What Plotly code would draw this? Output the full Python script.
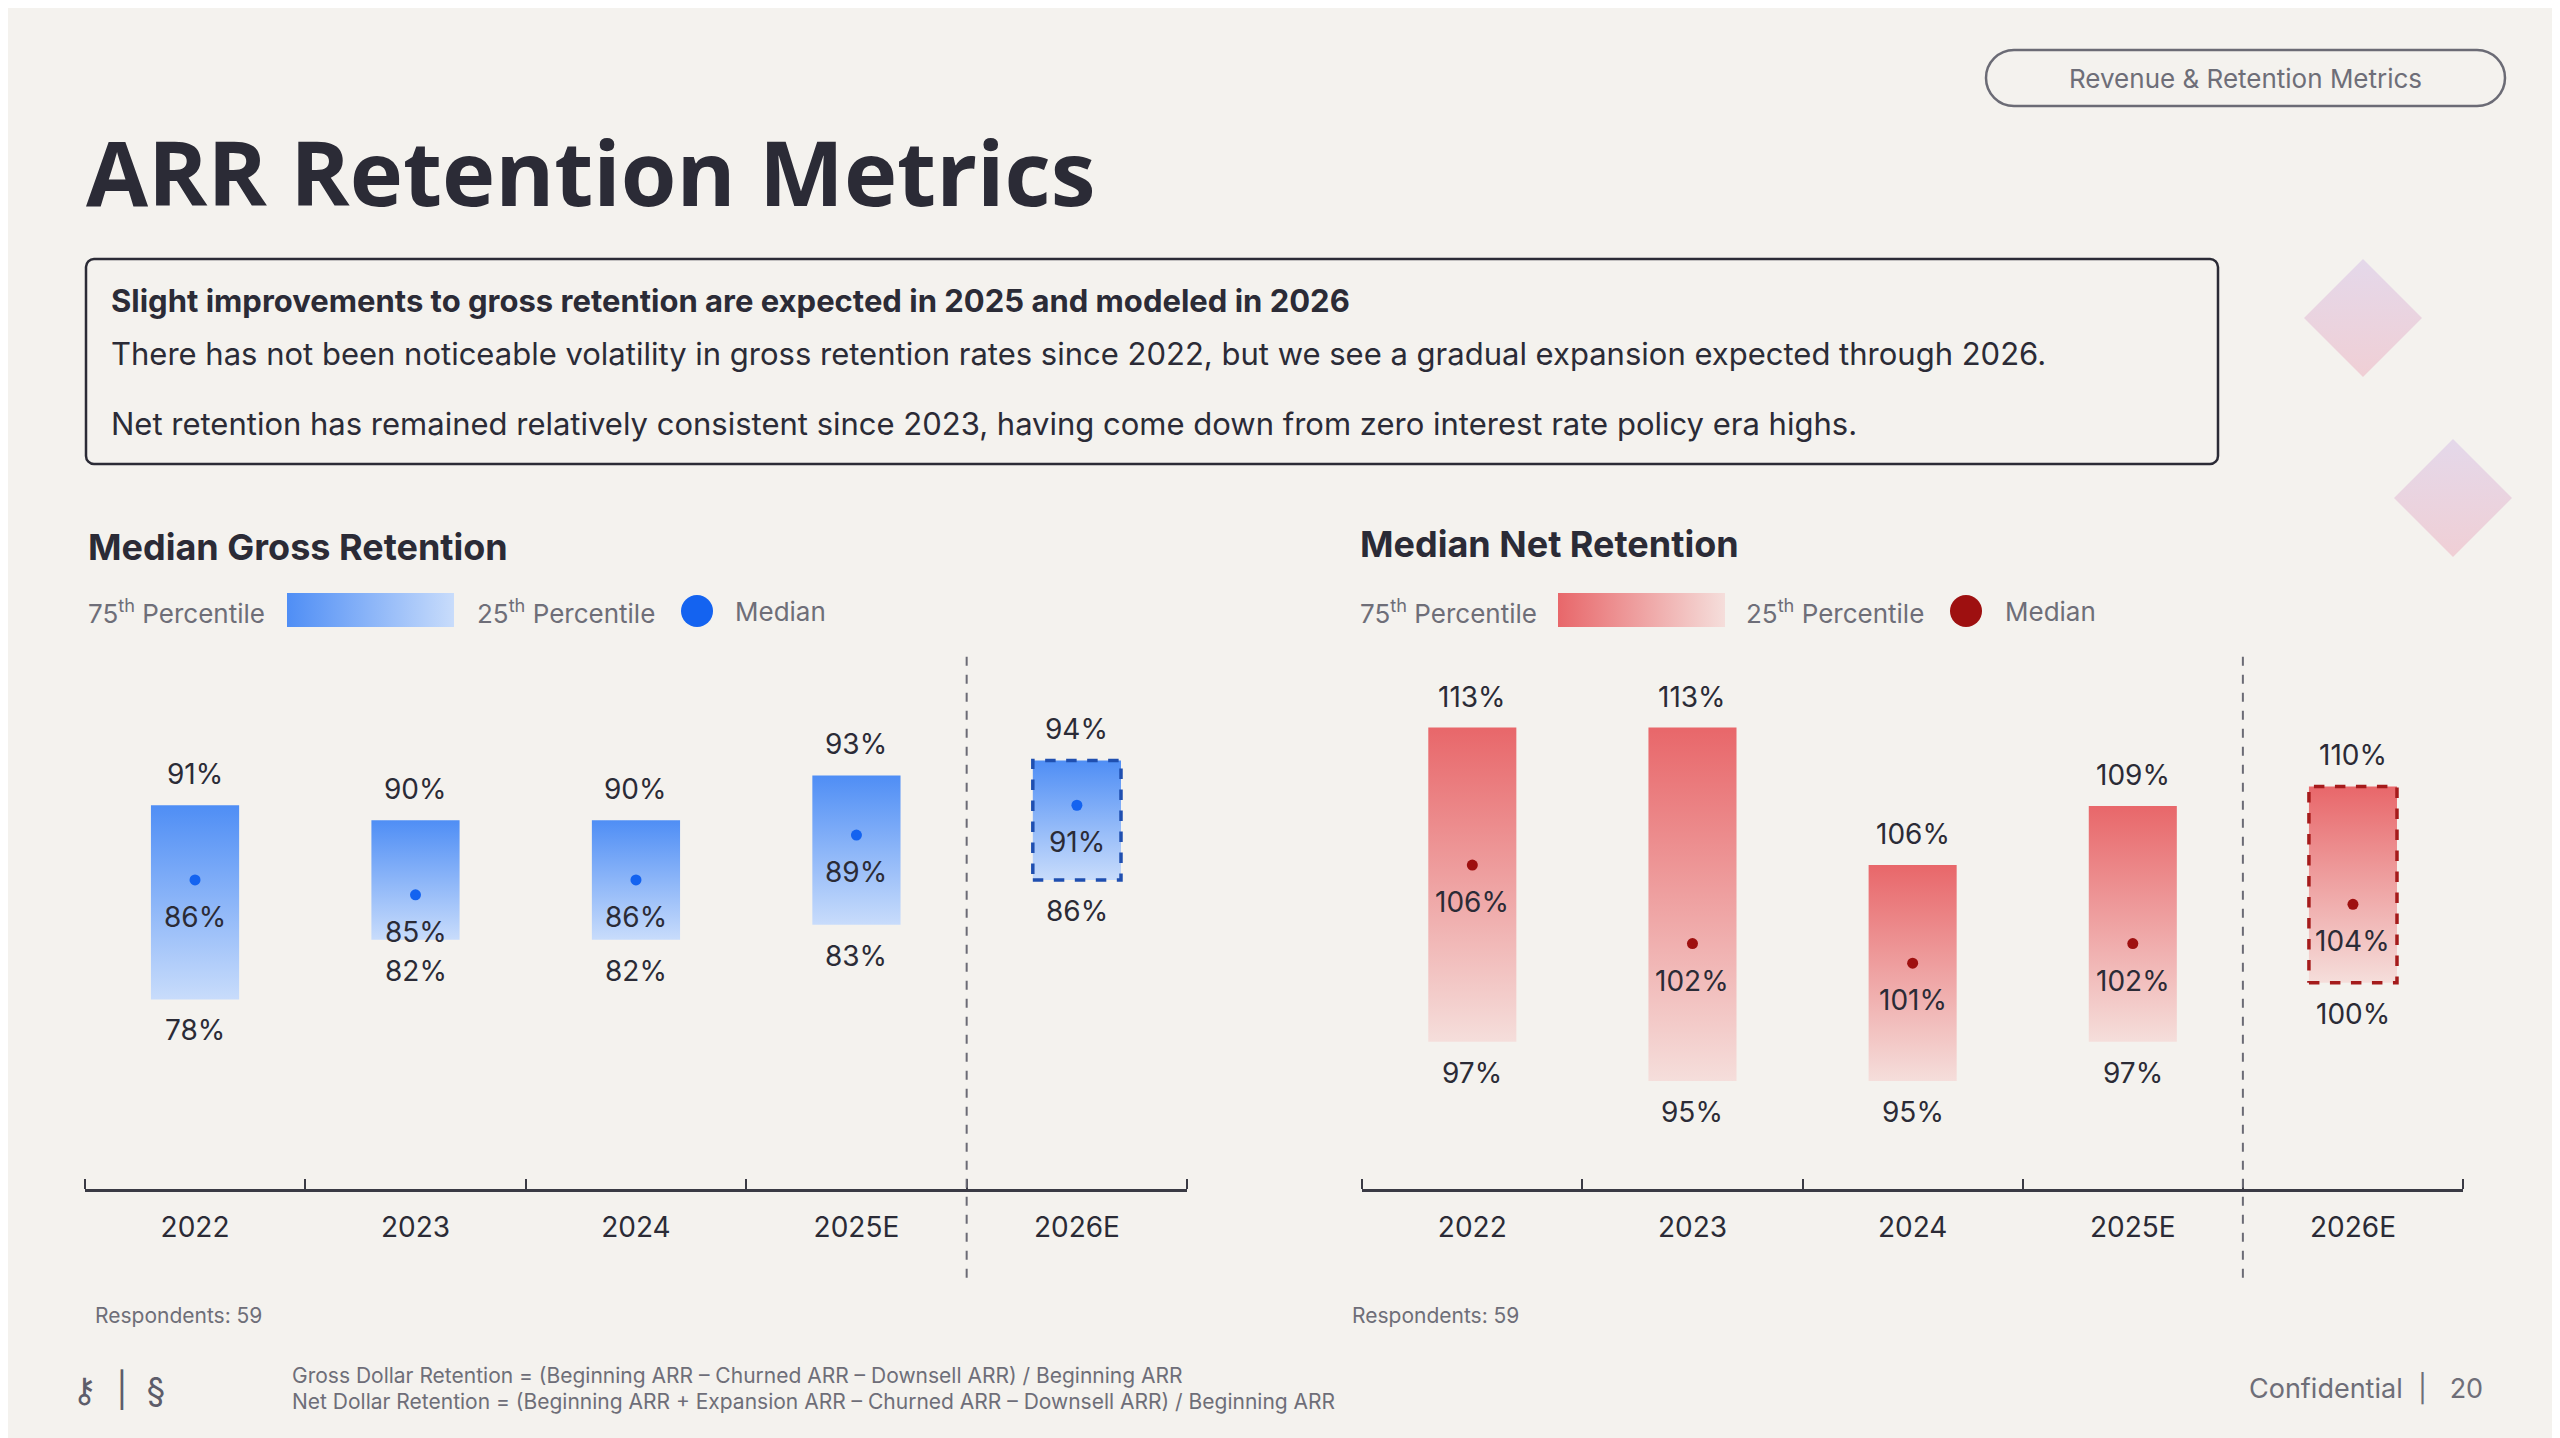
import plotly.graph_objects as go

YEARS = ["2022", "2023", "2024", "2025E", "2026E"]
GROSS_P75 = [91, 90, 90, 93, 94]
GROSS_MED = [86, 85, 86, 89, 91]
GROSS_P25 = [78, 82, 82, 83, 86]
NET_P75 = [113, 113, 106, 109, 110]
NET_MED = [106, 102, 101, 102, 104]
NET_P25 = [97, 95, 95, 97, 100]
RESPONDENTS = 59

BG = "#f4f2ee"
INK = "#2b2b36"
GRAY = "#6e6e78"
FONT = "Inter"
BLUE = ("#c8dcfb", "#4f8ef5", "#1463f0", "#1f4fb0")
RED = ("#f5dedb", "#e8676a", "#9e1010", "#a51b1b")

fig = go.Figure()


def panel(p75, med, p25, colors, xa, ya):
    light, dark, dot, edge = colors
    for i, (hi, m, lo) in enumerate(zip(p75, med, p25)):
        x0, x1 = i - 0.2, i + 0.2
        last = i == len(p75) - 1
        fig.add_trace(go.Scatter(
            x=[x0, x1, x1, x0, x0], y=[lo, lo, hi, hi, lo], xaxis=xa, yaxis=ya,
            mode="lines" if last else "none", fill="toself",
            fillgradient=dict(type="vertical", colorscale=[[0, light], [1, dark]]),
            line=dict(color=edge, width=3.5, dash="dash"), hoverinfo="skip"))
    idx = list(range(len(p75)))
    fig.add_trace(go.Scatter(x=idx, y=med, xaxis=xa, yaxis=ya, mode="markers",
                             marker=dict(color=dot, size=11), hoverinfo="skip"))
    for i in idx:
        for v, shift in ((p75[i], 31), (med[i], -37), (p25[i], -31)):
            fig.add_annotation(x=i, y=v, xref=xa, yref=ya, text=f"{v}%", showarrow=False,
                               yshift=shift, font=dict(size=28, color=INK))
    fig.add_shape(type="line", xref=xa, yref="paper", x0=3.5, x1=3.5, y0=0.117, y1=0.552,
                  line=dict(color="#6b6b75", width=2, dash="dash"))


panel(GROSS_P75, GROSS_MED, GROSS_P25, BLUE, "x", "y")
panel(NET_P75, NET_MED, NET_P25, RED, "x2", "y2")

xcommon = dict(range=[-0.5, 4.5], tickvals=list(range(5)), ticktext=YEARS, showline=True,
               linecolor="#3a3a44", linewidth=2.5, showgrid=False, zeroline=False, ticks="",
               tickfont=dict(size=28, color=INK), ticklabelstandoff=12,
               minor=dict(tickmode="linear", tick0=-0.5, dtick=1, ticks="inside",
                          ticklen=10, tickwidth=2, tickcolor="#3a3a44", showgrid=False),
               fixedrange=True)
fig.update_layout(
    xaxis=dict(domain=[0.030, 0.4606], anchor="y", **xcommon),
    xaxis2=dict(domain=[0.529, 0.959], anchor="y2", **xcommon),
    yaxis=dict(domain=[0.1787, 0.5515], range=[65.3, 101.2], visible=False),
    yaxis2=dict(domain=[0.1787, 0.5515], range=[89.5, 116.8], visible=False),
    xaxis3=dict(domain=[0, 1], range=[0, 2560], visible=False, anchor="y3"),
    yaxis3=dict(domain=[0, 1], range=[1438, 0], visible=False, anchor="x3"),
)


# decoration layer in pixel coordinates
def txt(x, y, s, size, color=INK, anchor="left", bold=False, family=FONT):
    if bold:
        s = f"<b>{s}</b>"
    fig.add_annotation(x=x, y=y, xref="x3", yref="y3", text=s, showarrow=False,
                       xanchor=anchor, yanchor="middle", font=dict(size=size, color=color, family=family))


def grad_rect(x0, x1, y0, y1, c_left, c_right):
    fig.add_trace(go.Scatter(x=[x0, x1, x1, x0, x0], y=[y0, y0, y1, y1, y0], xaxis="x3", yaxis="y3",
                             mode="none", fill="toself", hoverinfo="skip",
                             fillgradient=dict(type="horizontal", colorscale=[[0, c_left], [1, c_right]])))


def diamond(cx, cy, r):
    fig.add_trace(go.Scatter(x=[cx, cx + r, cx, cx - r, cx], y=[cy - r, cy, cy + r, cy, cy - r],
                             xaxis="x3", yaxis="y3", mode="none", fill="toself", hoverinfo="skip",
                             fillgradient=dict(type="vertical",
                                               colorscale=[[0, "#f0cfd5"], [1, "#e4d8ea"]])))


def rounded(x0, y0, x1, y1, r):
    k = r * 0.45
    return (f"M{x0+r},{y0} L{x1-r},{y0} C{x1-k},{y0} {x1},{y0+k} {x1},{y0+r} "
            f"L{x1},{y1-r} C{x1},{y1-k} {x1-k},{y1} {x1-r},{y1} L{x0+r},{y1} "
            f"C{x0+k},{y1} {x0},{y1-k} {x0},{y1-r} L{x0},{y0+r} C{x0},{y0+k} {x0+k},{y0} {x0+r},{y0} Z")


diamond(2355, 310, 59)
diamond(2445, 490, 59)

fig.add_shape(type="path", xref="x3", yref="y3", path=rounded(1978, 42, 2497, 98, 28),
              line=dict(color="#6b6b75", width=2.5))
txt(2237, 70, "Revenue &amp; Retention Metrics", 26, GRAY, "center")

txt(76, 163, "ARR Retention Metrics", 90, INK, bold=True, family="Open Sans")

fig.add_shape(type="path", xref="x3", yref="y3", path=rounded(78, 251, 2210, 456, 8),
              line=dict(color=INK, width=2.5))
txt(101, 292, "Slight improvements to gross retention are expected in 2025 and modeled in 2026", 31, INK, bold=True)
txt(101, 345, "There has not been noticeable volatility in gross retention rates since 2022, "
              "but we see a gradual expansion expected through 2026.", 31)
txt(101, 415, "Net retention has remained relatively consistent since 2023, "
              "having come down from zero interest rate policy era highs.", 31)

for x0, title, sw, dot, x25, xdot, xmed, cols in (
        (78, "Median Gross Retention", 279, BLUE[2], 467, 689, 725, BLUE),
        (1350, "Median Net Retention", 1550, RED[2], 1736, 1958, 1995, RED)):
    txt(x0, 539 if x0 < 1000 else 536, title, 36, INK, bold=True)
    txt(x0, 603, "75<sup>th</sup> Percentile", 26, GRAY)
    grad_rect(sw, sw + 167, 585, 619, cols[1], cols[0])
    txt(x25, 603, "25<sup>th</sup> Percentile", 26, GRAY)
    fig.add_trace(go.Scatter(x=[xdot], y=[603], xaxis="x3", yaxis="y3", mode="markers",
                             marker=dict(color=dot, size=32), hoverinfo="skip"))
    txt(xmed, 603, "Median", 26, GRAY)

txt(85, 1307, f"Respondents: {RESPONDENTS}", 21, GRAY)
txt(1342, 1307, f"Respondents: {RESPONDENTS}", 21, GRAY)
txt(282, 1367, "Gross Dollar Retention = (Beginning ARR – Churned ARR – Downsell ARR) / Beginning ARR", 21, GRAY)
txt(282, 1393, "Net Dollar Retention = (Beginning ARR + Expansion ARR – Churned ARR – Downsell ARR) / Beginning ARR", 21, GRAY)
txt(110, 1381, "⚷  |  §", 34, "#5d5d6a", "center")
txt(2477, 1380, "Confidential  |   20", 27, GRAY, "right")

fig.update_layout(width=2560, height=1438, paper_bgcolor=BG, plot_bgcolor="rgba(0,0,0,0)",
                  margin=dict(l=0, r=0, t=0, b=0), showlegend=False, font=dict(family=FONT, color=INK))
fig.write_html("out.html")
